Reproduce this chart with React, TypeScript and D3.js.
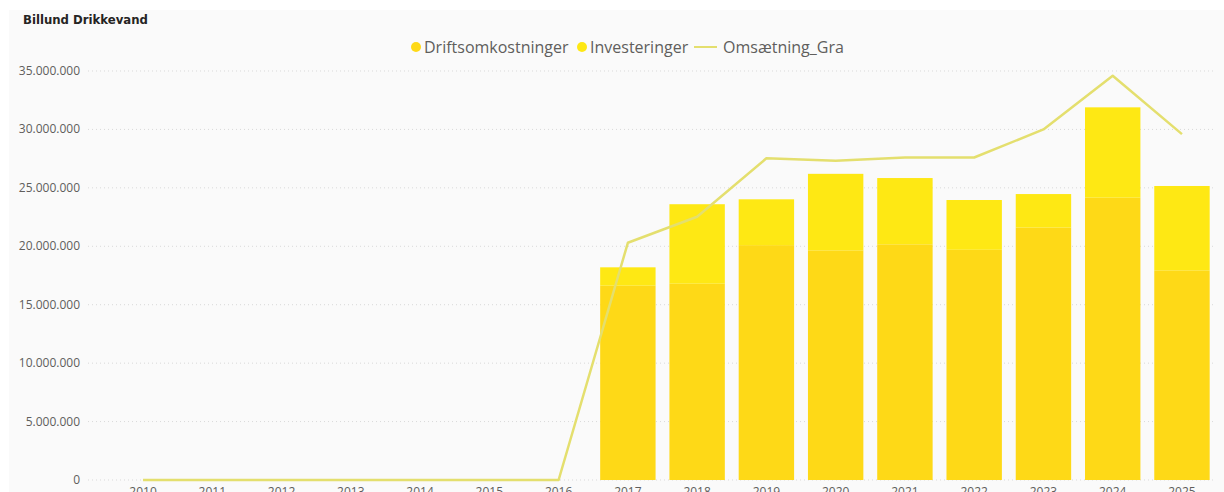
import React from "react";
import * as d3 from "d3";

const years = ["2010","2011","2012","2013","2014","2015","2016","2017","2018","2019","2020","2021","2022","2023","2024","2025"];
const drift = [0,0,0,0,0,0,0,16630000,16800000,20100000,19650000,20170000,19700000,21600000,24160000,17940000];
const invest = [0,0,0,0,0,0,0,1570000,6800000,3920000,6550000,5670000,4260000,2870000,7730000,7220000];
const omsaetning = [0,0,0,0,0,0,0,20300000,22530000,27530000,27330000,27600000,27600000,30000000,34600000,29600000];
const yTicks = [0,5000000,10000000,15000000,20000000,25000000,30000000,35000000];
const seriesNames = ["Driftsomkostninger","Investeringer","Omsætning_Gra"];

const C_DRIFT = "#FED917";
const C_INV = "#FEE814";
const C_LINE = "#E4DF6E";
const TXT = "#605E5C";

export default function App() {
  const W = 1224, H = 492;
  const x = d3.scaleBand<string>().domain(years).range([108.4, 1216.6]).paddingInner(0.2).paddingOuter(0.1);
  const y = d3.scaleLinear().domain([0, 35000000]).range([480, 71]);
  const bw = x.bandwidth();
  const fmt = (v: number) => v === 0 ? "0" : d3.format(",")(v).replace(/,/g, ".");
  const line = d3.line<number>().x((_, i) => (x(years[i]) as number) + bw / 2).y(d => y(d));
  const font = "'Open Sans', 'Noto Sans', sans-serif";
  return (
    <svg width={W} height={H} style={{ position: "absolute", left: 0, top: 0, display: "block" }} fontFamily={font}>
      <rect x={0} y={0} width={W} height={H} fill="#ffffff" />
      <rect x={9} y={10} width={W - 9} height={H - 10} fill="#FAFAFA" />
      <text x={23} y={24} fontSize={13} fontWeight="bold" fill="#252423" fontFamily="'DejaVu Sans Condensed','DejaVu Sans',sans-serif" style={{ fontStretch: "condensed" }}>Billund Drikkevand</text>
      {/* legend */}
      <g fontSize={16} fill={TXT}>
        <circle cx={416} cy={47} r={5} fill={C_DRIFT} />
        <text x={424} y={52.5}>{seriesNames[0]}</text>
        <circle cx={582} cy={47} r={5} fill={C_INV} />
        <text x={590} y={52.5}>{seriesNames[1]}</text>
        <line x1={694} x2={717} y1={47} y2={47} stroke={C_LINE} strokeWidth={2} />
        <text x={723} y={52.5}>{seriesNames[2]}</text>
      </g>
      {/* grid + y labels */}
      {yTicks.map(t => (
        <g key={t}>
          <line x1={88} x2={1216} y1={y(t)} y2={y(t)} stroke="#D9D9D9" strokeWidth={1} strokeDasharray="1,3" />
          <text x={80} y={y(t) + 4} textAnchor="end" fontSize={12} fill={TXT}>{fmt(t)}</text>
        </g>
      ))}
      {/* bars */}
      {years.map((yr, i) => (
        <g key={yr}>
          {drift[i] > 0 && <rect x={x(yr)} y={y(drift[i])} width={bw} height={y(0) - y(drift[i])} fill={C_DRIFT} />}
          {invest[i] > 0 && <rect x={x(yr)} y={y(drift[i] + invest[i])} width={bw} height={y(drift[i]) - y(drift[i] + invest[i])} fill={C_INV} />}
        </g>
      ))}
      <path d={line(omsaetning) || ""} fill="none" stroke={C_LINE} strokeWidth={2.5} strokeLinejoin="round" />
      {/* x labels */}
      {years.map(yr => (
        <text key={yr} x={(x(yr) as number) + bw / 2} y={496} textAnchor="middle" fontSize={12} fill={TXT}>{yr}</text>
      ))}
    </svg>
  );
}
